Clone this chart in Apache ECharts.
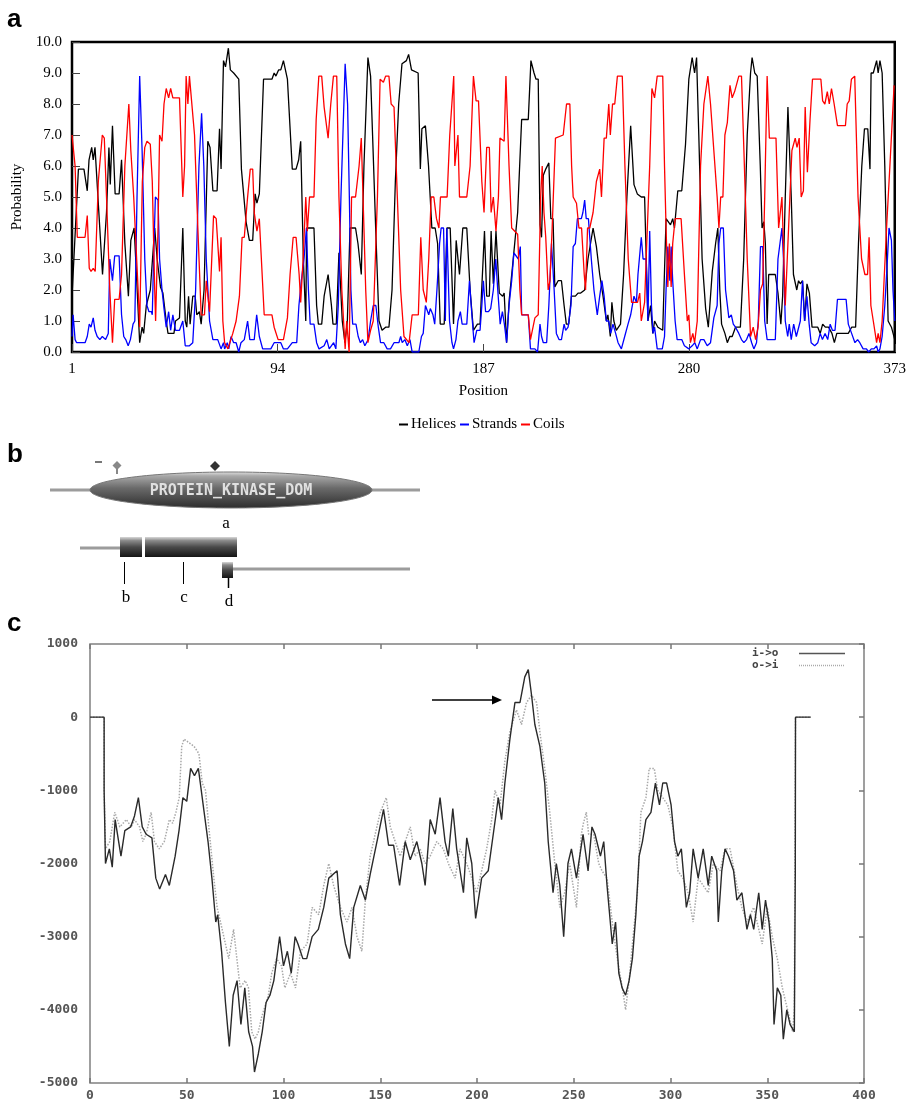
<!DOCTYPE html>
<html><head><meta charset="utf-8">
<script src="https://cdn.jsdelivr.net/npm/echarts@6/dist/echarts.min.js"></script>
<style>html,body{margin:0;padding:0;background:#fff}#c{width:909px;height:1102px}</style>
</head><body><div id="c"></div>
<script>
// ---------- Panel a: secondary structure probabilities ([position, value]) ----------
const seriesNames = ['Helices', 'Strands', 'Coils'];
const positionTicks = [1, 94, 187, 280, 373];
const helices = [[1,1.8],[3.9,5.9],[6.4,5.9],[7.9,5.2],[8.7,6.2],[9.9,6.6],[10.6,6.2],[11.4,6.6],[14.8,2.5],[15.6,2.5],[16.6,4.5],[17.7,6.6],[18.3,5.4],[19.3,7.3],[20.5,5.1],[22.3,5.1],[23.4,6.2],[24.9,3.5],[26.5,1.8],[27.6,3.6],[29.1,4.0],[29.8,3.0],[31.6,0.3],[32.7,0.8],[33.4,0.6],[34.6,1.5],[36.4,2.0],[38.4,4.0],[39.5,3.0],[41,2.1],[42.1,1.9],[43.6,1.0],[44.4,0.6],[47.1,0.6],[47.8,1.0],[49.6,1.1],[51.1,4.0],[52.2,1.0],[52.9,0.8],[53.7,1.8],[54.4,0.9],[55.6,1.8],[56.7,1.8],[57.4,1.2],[58.6,1.3],[59.4,0.9],[60.7,2.0],[62.4,6.8],[63.4,6.6],[64.7,5.2],[66.6,5.2],[67.7,7.2],[68.4,5.9],[69.5,9.4],[70.4,9.2],[71.7,9.8],[72.6,9.1],[74.1,9.0],[76.4,8.8],[77.6,5.9],[78.5,5.9],[79.7,4.2],[81.2,3.6],[82.7,3.6],[83.8,5.1],[84.6,4.8],[85.7,5.1],[87.6,8.8],[91.4,8.8],[92.4,9.0],[93.2,8.9],[94.4,9.1],[95.4,9.1],[96.6,9.4],[98.4,8.8],[100.6,5.9],[102.3,5.9],[103.5,6.2],[104.4,6.8],[105.6,3.0],[106.7,1.0],[107.1,4.0],[110.4,4.0],[111.6,1.5],[112.4,0.9],[113.9,0.9],[115,1.8],[116.8,2.5],[118.3,1.5],[119,0.9],[120.5,0.9],[121.7,3.2],[123.2,1.0],[124.4,0.3],[125.5,1.0],[126.7,4.0],[129.2,4.0],[130.3,3.5],[131.8,2.5],[133,6.0],[134.8,9.5],[136,8.9],[136.9,7.0],[138.3,4.0],[139.8,1.0],[141.2,0.7],[142.8,0.8],[144.3,0.8],[145.7,2.0],[147.2,5.5],[148.7,8.0],[150.2,9.3],[152.2,9.4],[153.2,9.6],[154.5,9.1],[157.5,9.0],[158.5,5.9],[159.2,7.2],[160.8,7.3],[162.2,6.0],[163.7,4.0],[165.2,4.0],[166.3,3.5],[167.5,0.9],[169.3,0.9],[170.5,4.0],[172,4.0],[173.5,0.9],[174.7,3.6],[176.2,2.5],[177.7,4.0],[179.5,4.0],[181,2.0],[182.5,0.7],[184.3,0.9],[185.5,0.9],[187.5,3.9],[188.5,1.8],[189.7,1.8],[190.5,3.9],[191.5,2.2],[192.7,3.9],[194.2,1.9],[195.7,1.8],[196.4,1.9],[197.5,0.3],[198.7,1.7],[200.5,3.0],[202.5,4.5],[204.3,7.5],[207.3,7.5],[208.5,9.4],[209.9,9.0],[210.8,8.8],[211.8,8.8],[212.6,4.1],[213.3,3.7],[214.1,5.7],[215.2,5.9],[216.6,6.1],[217.5,4.3],[218.5,4.3],[219.3,2.1],[220.8,2.3],[222.3,2.3],[223.5,1.5],[224.5,0.9],[225.6,0.9],[226.8,1.8],[228.6,1.8],[229.8,1.9],[231,1.9],[232.8,2.0],[234.3,3.0],[236.6,4.0],[238.1,3.4],[239.6,2.5],[241.1,1.8],[242.6,1.0],[243.3,1.2],[244.4,0.5],[245.1,1.6],[246,1.0],[247.1,0.7],[249,0.9],[250.4,2.5],[251.9,5.0],[253.6,7.3],[255.1,5.4],[256.6,5.1],[258.4,5.0],[259.9,5.0],[261.4,1.0],[262.6,1.5],[263.6,0.6],[264.4,1.0],[265.9,0.8],[268.1,0.7],[269.6,4.3],[270.4,4.3],[271.6,4.1],[272.6,4.3],[273.4,4.0],[274.9,5.2],[276.7,5.2],[278.4,6.7],[279.9,8.8],[281.4,9.5],[282.5,9.0],[283.4,9.5],[284.4,7.0],[285.9,3.0],[287.5,1.4],[288.7,0.8],[290.5,2.6],[292,3.5],[293,4.0],[293.9,2.0],[294.7,0.9],[296.2,0.6],[297.3,0.3],[298.4,0.5],[299.5,0.5],[301,0.8],[303.2,0.8],[304.7,3.0],[306.3,7.0],[307.8,9.0],[308.5,9.5],[309.7,9.0],[310.8,8.9],[312.2,6.0],[313,4.0],[313.8,4.2],[314.5,3.5],[315.3,0.9],[316,2.5],[319,2.5],[320.2,1.9],[321.5,0.9],[322.3,1.8],[323.5,5.0],[324.7,7.9],[326.2,5.0],[327.2,2.5],[328.7,2.0],[329.5,2.3],[330.3,2.2],[331.3,2.3],[332.3,1.0],[333.3,2.2],[334.4,1.9],[335.6,0.8],[338.2,0.8],[339.3,0.6],[340.4,0.9],[341.6,0.8],[343.1,0.8],[344.6,0.6],[345.7,0.3],[346.8,0.6],[352,0.6],[353.5,0.8],[355.3,0.8],[356.6,3.5],[358.1,6.0],[359.3,7.2],[360.8,7.2],[361.8,5.9],[362.3,9.0],[363.3,9.0],[364.8,9.4],[365.5,9.0],[366.3,9.4],[367.3,9.0],[368.5,6.0],[370,1.0],[371.5,0.8],[373,0.4]];
const strands = [[1,0.5],[1.5,1.2],[2.4,0.4],[3.1,0.3],[6.9,0.3],[7.9,0.5],[8.8,0.9],[9.6,0.8],[10.6,1.1],[11.4,0.7],[12.4,0.5],[13.6,0.4],[14.7,0.5],[16.2,0.4],[17.4,0.6],[18.1,3.0],[19.3,2.3],[20.3,3.1],[22.3,3.1],[23.4,1.2],[24.4,0.5],[25.3,0.4],[26.4,0.2],[27.4,0.4],[28.6,0.9],[29.4,1.0],[30.4,5.0],[31.6,8.9],[32.7,6.5],[33.9,3.0],[34.9,1.5],[35.8,1.3],[36.9,1.3],[37.3,1.2],[37.9,3.0],[38.7,5.0],[39.9,4.9],[40.6,3.0],[41.7,2.0],[42.6,1.4],[43.6,0.8],[44.7,1.3],[45.6,0.7],[46.6,1.2],[47.8,0.7],[49.6,0.7],[51.1,1.0],[52.2,0.2],[54.1,0.2],[55.6,0.3],[56.9,2.0],[58.4,6.0],[59.6,7.7],[60.6,6.0],[61.7,3.0],[63.2,1.0],[64.7,0.4],[66.9,0.4],[68.4,0.1],[69.5,0.3],[70,0.1],[71.2,0.3],[71.9,0.1],[72.9,0.5],[74.1,0.3],[75.2,0.3],[76.4,0.0],[77.4,0.3],[78.9,0.4],[80.4,1.0],[81.4,0.4],[83.4,0.4],[84.5,1.2],[85.7,0.5],[87.2,0.1],[90.9,0.1],[92.4,0.3],[95.4,0.3],[96.6,0.1],[98.4,0.1],[100.6,0.3],[102.6,0.3],[103.6,1.5],[104.7,2.3],[105.9,3.0],[107,4.0],[107.9,2.0],[108.7,0.9],[110.4,0.9],[111.6,0.3],[112.7,0.1],[115,0.2],[116.2,0.4],[117.3,0.1],[119.3,0.3],[120.3,0.1],[121.4,1.5],[122.6,5.0],[124.5,9.3],[125.6,8.0],[126.4,5.0],[127.1,2.0],[127.9,0.9],[129.4,0.9],[130.4,0.5],[131.4,0.3],[132.4,0.4],[133.4,0.2],[134.9,0.4],[136,1.0],[137.2,1.5],[138.4,1.5],[139.5,0.8],[140.5,0.3],[142,0.3],[143.5,0.1],[145,0.1],[146.6,0.3],[148.8,0.3],[149.6,0.5],[150.3,0.3],[151.5,0.4],[152.6,0.2],[153.8,0.4],[154.8,0.0],[157.8,0.0],[159,0.5],[159.8,0.6],[160.8,1.5],[161.6,1.5],[162.3,1.2],[163,1.4],[164.2,1.2],[165,0.9],[166,2.0],[167.2,3.5],[167.9,4.0],[169,4.0],[169.8,1.0],[170.5,4.0],[171.7,1.0],[172.8,0.3],[173.5,0.1],[174.6,0.4],[175.5,1.0],[176.6,1.3],[177.4,0.9],[179.5,0.9],[180.7,2.3],[181.8,1.2],[182.8,0.3],[184,0.7],[185.5,0.7],[186.3,1.5],[187,2.3],[188,1.3],[189.3,1.3],[190.3,1.4],[191.5,2.0],[192.6,3.0],[193.5,2.0],[194.6,0.9],[195.6,1.3],[196.5,0.9],[197.5,0.3],[198.6,1.5],[199.8,2.3],[200.8,3.2],[202.8,3.0],[203.7,3.4],[204.3,1.2],[207.3,1.2],[208.3,0.1],[210.3,0.1],[211.5,0.0],[212.6,0.9],[213.3,0.5],[214.1,0.3],[215.6,0.3],[216.6,1.5],[217.8,3.5],[219,2.0],[220,0.6],[221.2,0.4],[222.3,0.4],[223.5,0.9],[224.2,0.7],[225.3,0.8],[226.6,1.5],[227.6,3.4],[228.6,3.5],[229.5,4.3],[231.3,4.3],[232,4.5],[232.8,4.9],[233.5,4.3],[234.5,4.3],[235.8,3.0],[237,2.0],[238.5,1.2],[239.6,1.8],[240.6,2.3],[241.6,1.8],[242.6,1.0],[243.7,1.0],[244.6,0.6],[245.6,0.9],[246.8,0.6],[247.9,0.3],[249.4,0.1],[250.9,0.5],[252.4,0.9],[253.6,1.2],[255.1,1.8],[256.2,1.6],[256.9,2.5],[258.4,3.7],[259.2,3.0],[260.6,3.0],[261.4,1.0],[262.2,3.9],[263,1.5],[263.7,0.6],[264.4,0.8],[265.6,0.1],[267.9,0.1],[268.9,0.5],[269.6,2.0],[270.4,3.4],[271.3,2.3],[271.9,3.4],[272.6,2.3],[273.7,1.0],[274.6,0.4],[276.7,0.4],[277.9,0.2],[279.9,0.1],[281.4,0.2],[282.6,0.3],[283.7,0.1],[285.2,0.4],[286.7,0.4],[288.2,0.2],[289.7,0.3],[291.2,1.1],[292.7,1.5],[293.5,3.5],[294.3,4.0],[295.5,4.0],[296.5,2.0],[298,1.1],[299.1,1.2],[300,0.9],[301,0.8],[302.5,0.6],[303.7,0.4],[304.8,0.3],[306,0.4],[307.1,0.6],[308.3,0.3],[309.3,0.1],[310.5,0.3],[311.3,1.0],[312.3,3.4],[313.3,3.4],[314.2,1.0],[315.3,0.4],[319,0.4],[320.2,3.0],[322,4.0],[322.7,3.0],[323.5,1.0],[324.6,0.5],[325.3,0.9],[326.2,0.4],[327.3,0.9],[328.5,0.5],[330.3,1.0],[331.3,2.3],[332.2,1.0],[333.3,1.8],[334.3,0.9],[335.2,0.3],[336.8,0.2],[338.2,0.3],[339.3,0.6],[340.3,0.4],[341.5,0.6],[342.7,0.4],[343.8,0.9],[344.8,0.7],[346,0.7],[347.1,1.7],[351,1.7],[352,0.9],[353.5,0.6],[355,0.3],[356.2,0.4],[357.2,0.3],[358.7,0.1],[360.2,0.1],[361.2,0.0],[362.4,0.1],[363.6,0.1],[364.8,0.2],[365.5,0.0],[366.3,0.1],[367.3,0.5],[368.5,1.5],[369.7,3.0],[370.4,4.0],[371.5,3.6],[372.2,2.0],[373,1.0]];
const coils = [[1,7.0],[2.4,6.0],[3.4,3.7],[6.9,3.7],[7.9,4.4],[8.8,2.7],[9.6,2.6],[10.6,2.7],[11.5,2.6],[12.9,5.5],[14.7,7.0],[15.6,6.9],[16.6,5.0],[18.1,2.0],[19.3,0.3],[20.3,1.7],[22.3,1.7],[23.4,2.5],[24.9,6.0],[26.7,8.0],[27.6,6.5],[28.9,5.0],[29.7,5.0],[30.9,2.0],[31.6,0.8],[32.8,5.5],[33.9,6.6],[34.9,6.8],[36.4,6.7],[37.3,5.5],[38.4,2.0],[38.8,1.0],[39.9,4.0],[40.6,7.0],[41.7,6.8],[42.6,8.0],[43.6,8.5],[44.7,8.2],[45.6,8.5],[46.6,8.2],[49.6,8.2],[51.1,5.0],[51.9,6.0],[52.6,8.9],[53.4,8.0],[54.1,8.9],[56.4,7.0],[57.9,4.0],[59.4,1.2],[60.9,1.2],[61.7,2.3],[63.2,1.3],[65,4.4],[66.2,4.3],[67.7,2.6],[68.4,3.7],[69.2,1.0],[70,0.3],[71.5,0.1],[73.7,0.6],[75.2,1.0],[76.7,1.8],[77.9,3.7],[78.9,3.7],[80.4,5.0],[81.6,5.9],[82.7,5.9],[83.4,4.5],[84.6,3.9],[85.7,4.3],[87.9,1.2],[91.4,1.2],[92.4,0.8],[94.2,0.4],[96.6,0.4],[98.4,1.1],[99.6,2.5],[101,3.7],[102.3,3.7],[103.7,2.5],[104.4,1.6],[105.5,3.0],[106.7,5.0],[107.4,3.9],[108.4,5.0],[110.4,5.0],[111.4,7.5],[112.6,8.9],[113.9,8.9],[115,7.9],[115.7,7.9],[116.8,6.9],[118,8.0],[119.2,8.9],[120.7,8.9],[121.7,5.0],[123,2.0],[124.5,0.1],[125.2,1.0],[126.3,0.0],[127.4,5.0],[129.2,5.0],[130.8,6.0],[131.8,6.9],[133,4.0],[133.8,2.0],[134.8,0.3],[136,0.7],[137.2,1.0],[139.1,5.0],[140.3,8.8],[141.8,8.7],[142.8,8.9],[144.3,8.9],[145.3,8.0],[146.6,7.9],[148.1,5.0],[149.6,2.0],[151.1,0.5],[153.4,0.3],[154.8,1.2],[157.6,1.2],[158.7,3.7],[159.8,2.0],[161.2,1.6],[162.3,3.0],[163.4,5.0],[164.6,5.0],[165.8,4.3],[166.9,4.0],[167.6,5.0],[170.6,5.0],[171.8,7.0],[173.6,8.9],[174.1,6.0],[174.9,6.0],[175.5,7.0],[176.2,5.0],[179.5,5.0],[181,6.0],[182.5,8.9],[183.7,8.1],[184.8,8.1],[186.3,5.5],[187.3,4.5],[188.5,6.6],[189.7,6.6],[190.5,4.5],[191.5,5.0],[192.7,3.9],[193.8,5.0],[194.5,6.9],[196.4,6.8],[197.2,8.9],[198.6,6.0],[199.8,4.0],[202.5,3.8],[203.5,2.0],[204.3,1.2],[207.3,1.2],[208.3,0.4],[210.3,1.1],[211.8,1.2],[212.9,5.0],[213.6,6.0],[214.4,4.5],[215.2,3.7],[216.3,2.0],[217.1,2.3],[218.1,4.0],[219.6,6.9],[223.1,7.0],[224.6,8.0],[226.1,8.0],[226.9,6.0],[227.6,5.0],[229.1,4.8],[230.2,4.0],[231.4,4.0],[232.6,2.5],[233.2,2.0],[234.1,4.0],[235.1,4.0],[236.6,4.5],[238.1,5.5],[239.6,5.9],[240.4,5.0],[241.6,6.9],[242.6,6.9],[243.7,8.0],[244.4,7.0],[245.4,8.0],[246.4,8.0],[247.6,8.9],[249.8,8.9],[251,6.0],[252.5,3.0],[254,1.6],[256.7,1.6],[257.7,1.9],[258.4,1.0],[259.9,1.6],[260.6,3.0],[262.2,6.0],[263.2,8.5],[264.4,8.2],[265.6,8.9],[268.1,8.9],[268.9,6.0],[269.6,4.0],[270.4,2.1],[271.1,3.5],[271.9,2.1],[272.6,3.5],[273.7,4.3],[276.4,4.3],[277.9,2.5],[279.2,1.0],[279.9,1.2],[280.6,0.3],[281.7,0.6],[282.5,0.3],[283.7,1.0],[285.2,6.0],[286.7,8.0],[288.5,8.9],[289.7,8.0],[291.2,6.5],[292.7,5.0],[293.5,4.0],[294.3,5.0],[295.3,5.0],[296.2,7.0],[297.3,7.4],[298.5,8.6],[299.5,8.2],[300.6,8.4],[301.5,8.4],[302.5,8.9],[303.7,8.9],[304.8,6.5],[306.3,3.0],[307.8,0.5],[309,0.8],[310.1,0.4],[311.2,0.8],[312.3,2.0],[313.3,2.2],[314.2,5.0],[315.3,8.9],[316.3,6.9],[319.3,6.9],[320.5,4.0],[322,5.0],[323.5,1.5],[325,4.0],[326.5,6.5],[328,6.9],[328.8,6.6],[329.8,6.9],[330.7,5.0],[331.7,5.2],[332.5,7.9],[333.5,5.8],[334.7,7.5],[335.8,8.8],[339.6,8.8],[340.4,8.1],[341.4,8.0],[342.5,8.4],[343.4,8.0],[344.4,8.5],[345.6,8.0],[347.1,7.3],[350.7,7.3],[351.5,8.0],[352.4,8.1],[353.4,8.8],[354.9,8.9],[356.4,5.0],[358,3.0],[359.5,2.5],[360.7,2.5],[361.4,3.7],[362.2,1.5],[363.3,1.0],[364.8,0.3],[365.5,0.6],[366.3,0.3],[367.3,1.0],[369.3,4.0],[370.8,6.0],[372.7,8.6]];

// ---------- Panel c: TMpred profiles ([residue, score]) ----------
const tmNames = ['i->o', 'o->i'];
const inToOut = [[0,0],[7.3,0],[7.3,-1000],[8,-2000],[10,-1800],[11.5,-2050],[13,-1400],[16,-1900],[18,-1550],[21,-1500],[23,-1350],[25,-1100],[27,-1500],[29,-1600],[32,-1650],[34,-2200],[36,-2350],[39,-2150],[41,-2300],[44,-1900],[46,-1550],[48,-1100],[50,-1150],[52,-700],[54,-800],[56,-700],[57,-900],[59,-1300],[61,-1700],[63,-2200],[65,-2800],[66,-2700],[68,-3200],[70,-3900],[72,-4500],[74,-3800],[76,-3600],[78,-4200],[80,-3700],[82,-4300],[84,-4500],[85,-4850],[87,-4600],[89,-4300],[91,-3900],[93,-3800],[95,-3600],[98,-3000],[100,-3400],[102,-3200],[104,-3500],[106,-3000],[107.5,-3100],[110,-3300],[112,-3300],[114.8,-3000],[118,-2900],[120.8,-2600],[123.4,-2200],[127.7,-2100],[129.4,-2700],[132,-3100],[134.2,-3300],[136.3,-2600],[139.7,-2300],[142.3,-2500],[144.8,-2150],[148.3,-1700],[151.7,-1260],[154.3,-1750],[156.9,-1750],[160,-2300],[162.9,-1700],[165.5,-1950],[168.9,-1700],[171.5,-2000],[173.2,-2300],[175.8,-1400],[178.4,-1600],[180.9,-1100],[183.5,-1700],[185.2,-1900],[187.5,-1250],[189.5,-1800],[193,-2400],[194.7,-1650],[197.3,-2000],[199.3,-2750],[202.4,-2200],[205.8,-2100],[208.4,-1600],[211,-1100],[212.7,-1400],[214.4,-900],[217,-300],[219.6,200],[222.2,200],[224.7,550],[226.5,650],[228.2,300],[229.9,-100],[232.5,-400],[235,-900],[236.8,-1700],[239.3,-2400],[241,-2000],[242.8,-2300],[244.8,-3000],[247,-2000],[248.8,-1800],[251.4,-2200],[254.8,-1600],[257.4,-2100],[259.4,-1500],[261,-1600],[263.8,-1900],[265.5,-1700],[267.2,-2300],[269.9,-3100],[271.6,-2800],[273.3,-3500],[275,-3700],[276.8,-3800],[278.6,-3600],[280.3,-3300],[282.1,-2700],[283.8,-1900],[285.5,-1700],[287.3,-1400],[289.9,-1300],[292.2,-900],[294.3,-1200],[296,-900],[298,-900],[300.3,-1200],[302.1,-1700],[303.8,-1900],[305.6,-1800],[308.2,-2600],[309.9,-2400],[311.7,-1800],[314.3,-2200],[316.9,-1800],[319.5,-2300],[321.3,-1900],[323.9,-2100],[324.7,-2800],[326.5,-2100],[328.2,-1800],[330,-1900],[332.6,-2100],[334.3,-2500],[336.9,-2400],[339.5,-2900],[341.3,-2700],[343,-2900],[345.6,-2400],[347.4,-2900],[349.1,-2500],[350.9,-2800],[352.6,-3300],[353.5,-4200],[355.2,-3700],[357,-3800],[358.3,-4400],[360.1,-4000],[361.8,-4200],[364,-4300],[364.5,-2100],[364.6,0],[372.5,0]];
const outToIn = [[0,0],[7.3,0],[7.3,-1000],[8,-1800],[10.2,-1700],[12.8,-1300],[15.4,-1500],[18.8,-1400],[21.3,-1500],[23,-1400],[25.6,-1500],[27.3,-1700],[29,-1600],[31.6,-1300],[33.3,-1700],[35.8,-1800],[38.4,-1700],[41,-1400],[42.7,-1450],[44.4,-1300],[46.1,-1100],[47.4,-400],[48.6,-300],[51.2,-350],[53.8,-400],[56.3,-500],[58,-900],[59.7,-1000],[61.4,-1500],[64,-2200],[65.7,-2600],[68.3,-2900],[71.7,-3300],[74.2,-2900],[75.9,-3300],[77.6,-3700],[80.2,-3600],[81.9,-3700],[83.6,-4300],[85.3,-4400],[87,-4300],[88.7,-4100],[92.2,-3800],[93.9,-3500],[96.4,-3300],[99,-3400],[100.7,-3700],[103.6,-3500],[106.2,-3700],[108.8,-3200],[112.2,-3100],[114.8,-2600],[118.2,-2700],[120.8,-2300],[123.4,-2000],[125.9,-2300],[129.4,-2600],[132.8,-2800],[135.4,-2600],[138,-3000],[140.5,-3200],[142.3,-2500],[144.8,-1900],[147.4,-1600],[150,-1300],[153.1,-1100],[155.2,-1500],[157.7,-1700],[160.3,-1900],[162.9,-1700],[165.5,-1500],[168,-1900],[170.6,-1800],[173.2,-2000],[175.8,-1900],[179.2,-1700],[182.6,-1800],[185.2,-2000],[188.7,-2200],[191.2,-1800],[194.7,-2000],[197.3,-2200],[199.8,-2400],[202.4,-2100],[205,-1800],[207.6,-1400],[209.3,-1000],[211.9,-1200],[214.4,-600],[217,-200],[220.4,100],[223,-100],[225.6,200],[228.2,300],[230.8,200],[232.5,-200],[235,-700],[237.6,-1300],[240.2,-2000],[242.8,-2600],[245.3,-2400],[247.9,-2000],[251.4,-2600],[253.9,-1600],[255,-1450],[256.5,-1300],[257.7,-1600],[260.3,-1600],[262.9,-2000],[264.6,-2100],[267.2,-2200],[269.9,-2800],[272.5,-3300],[275.1,-3700],[276.8,-4000],[278.6,-3600],[280.3,-3100],[282.9,-2400],[284.7,-1300],[287.3,-1100],[289,-700],[291.6,-700],[293.4,-1000],[296,-1100],[298.6,-1200],[301.2,-1500],[303.8,-2100],[306.4,-2200],[309.1,-2400],[311.7,-2800],[314.3,-2200],[316.9,-2300],[319.5,-2400],[322.1,-2000],[325.6,-2100],[328.2,-1800],[330.8,-1800],[334.3,-2300],[336.9,-2600],[339.5,-2800],[343,-2600],[347.4,-3100],[350,-2600],[352.6,-3000],[355.2,-3300],[357.8,-3700],[360.5,-4000],[363.1,-4300],[364,-4000],[364.5,-4000],[364.6,0],[372.5,0]];

// ---------- Panel b labels ----------
const domainName = 'PROTEIN_KINASE_DOM';
const partLabels = ['a', 'b', 'c', 'd'];

const SERIF = '"Liberation Serif","Times New Roman",serif';
const MONO = '"DejaVu Sans Mono","Liberation Mono",monospace';
const SANS = '"Liberation Sans",Arial,sans-serif';

const shift = arr => arr.map(d => [d[0] - positionTicks[0], d[1]]);
const colors = ['#000000', '#0000ff', '#ff0000'];

const chart = echarts.init(document.getElementById('c'), null, {renderer: 'canvas'});

function txt(x, y, text, font, fill, align, valign) {
  return {type: 'text', x: x, y: y, silent: true,
    style: {text: text, font: font, fill: fill, align: align || 'left', verticalAlign: valign || 'top',
            textAlign: align || 'left', textVerticalAlign: valign || 'top'}};
}
function grad(stops) {
  return {type: 'linear', x: 0, y: 0, x2: 0, y2: 1, colorStops: stops.map(s => ({offset: s[0], color: s[1]}))};
}
const boxGrad = grad([[0, '#d8d8d8'], [0.18, '#8a8a8a'], [0.5, '#4a4a4a'], [1, '#151515']]);
const GREY = '#9c9c9c';

const graphics = [
  txt(7, 7, 'a', 'bold 26px ' + SANS, '#000'),
  txt(7, 442, 'b', 'bold 26px ' + SANS, '#000'),
  txt(7, 611, 'c', 'bold 26px ' + SANS, '#000'),
  // panel b, row 1
  {type: 'line', shape: {x1: 50, y1: 490, x2: 420, y2: 490}, style: {stroke: GREY, lineWidth: 3}},
  {type: 'ellipse', shape: {cx: 231, cy: 490, rx: 141, ry: 18},
   style: {fill: grad([[0, '#e4e4e4'], [0.12, '#a8a8a8'], [0.45, '#6a6a6a'], [1, '#2c2c2c']]), stroke: '#777', lineWidth: 1}},
  txt(231, 491, domainName, 'bold 15px ' + MONO, '#e0e0e0', 'center', 'middle'),
  {type: 'line', shape: {x1: 117, y1: 466, x2: 117, y2: 474}, style: {stroke: '#888', lineWidth: 2}},
  {type: 'polygon', shape: {points: [[117, 461], [121.5, 465.5], [117, 470], [112.5, 465.5]]}, style: {fill: '#888'}},
  {type: 'line', shape: {x1: 95, y1: 462, x2: 102, y2: 462}, style: {stroke: '#777', lineWidth: 2}},
  {type: 'polygon', shape: {points: [[215, 461], [220, 466], [215, 471], [210, 466]]}, style: {fill: '#333'}},
  txt(226, 515, partLabels[0], '17px ' + SERIF, '#000', 'center', 'top'),
  // panel b, row 2
  {type: 'line', shape: {x1: 80, y1: 548, x2: 120, y2: 548}, style: {stroke: GREY, lineWidth: 3}},
  {type: 'rect', shape: {x: 120, y: 537, width: 22, height: 20}, style: {fill: boxGrad}},
  {type: 'rect', shape: {x: 145, y: 537, width: 92, height: 20}, style: {fill: boxGrad}},
  {type: 'line', shape: {x1: 233, y1: 569, x2: 410, y2: 569}, style: {stroke: GREY, lineWidth: 3}},
  {type: 'rect', shape: {x: 222, y: 562, width: 11, height: 16}, style: {fill: boxGrad}},
  {type: 'line', shape: {x1: 124.5, y1: 562, x2: 124.5, y2: 584}, style: {stroke: '#000', lineWidth: 1}},
  {type: 'line', shape: {x1: 183.5, y1: 562, x2: 183.5, y2: 584}, style: {stroke: '#000', lineWidth: 1}},
  {type: 'line', shape: {x1: 228.5, y1: 578, x2: 228.5, y2: 588}, style: {stroke: '#000', lineWidth: 1.5}},
  txt(126, 589, partLabels[1], '17px ' + SERIF, '#000', 'center', 'top'),
  txt(184, 589, partLabels[2], '17px ' + SERIF, '#000', 'center', 'top'),
  txt(229, 593, partLabels[3], '17px ' + SERIF, '#000', 'center', 'top'),
  // panel c arrow
  {type: 'line', shape: {x1: 432, y1: 700, x2: 494, y2: 700}, style: {stroke: '#000', lineWidth: 1.5}},
  {type: 'polygon', shape: {points: [[492, 695.5], [502, 700], [492, 704.5]]}, style: {fill: '#000'}},
  // panel c legend
  txt(752, 653.5, tmNames[0], 'bold 11px ' + MONO, '#444', 'left', 'middle'),
  txt(752, 665, tmNames[1], 'bold 11px ' + MONO, '#444', 'left', 'middle'),
  {type: 'line', shape: {x1: 799, y1: 653.5, x2: 845, y2: 653.5}, style: {stroke: '#555', lineWidth: 1.5}},
  {type: 'line', shape: {x1: 799, y1: 665.5, x2: 845, y2: 665.5}, style: {stroke: '#aaa', lineWidth: 1.5, lineDash: [1, 1]}}
];

const tickC = {show: true, inside: true, length: 5, lineStyle: {color: '#777', width: 1.5}};
const noLine = {show: false, onZero: false};

const option = {
  animation: false,
  backgroundColor: '#fff',
  grid: [
    {left: 72, top: 42, width: 826, height: 310, show: true, borderColor: '#000', borderWidth: 2.5, backgroundColor: 'transparent'},
    {left: 90, top: 644, width: 774, height: 443, show: true, borderColor: '#808080', borderWidth: 1.5, backgroundColor: 'transparent'}
  ],
  legend: {
    data: seriesNames, left: 394, top: 412, icon: 'rect', itemWidth: 9, itemHeight: 2, itemGap: 4,
    textStyle: {fontFamily: SERIF, fontSize: 15, color: '#000', padding: [0, 0, 0, -2]}
  },
  xAxis: [
    {type: 'value', gridIndex: 0, min: 0, max: positionTicks[4] - positionTicks[0], interval: positionTicks[1] - positionTicks[0],
     name: 'Position', nameLocation: 'middle', nameGap: 32,
     nameTextStyle: {fontFamily: SERIF, fontSize: 15, color: '#000'},
     axisLine: noLine, splitLine: {show: false},
     axisTick: {show: true, inside: true, length: 8, lineStyle: {color: '#444', width: 1}},
     axisLabel: {fontFamily: SERIF, fontSize: 15, color: '#000', margin: 10, formatter: v => String(v + positionTicks[0])}},
    {type: 'value', gridIndex: 1, min: 0, max: 400, interval: 50,
     axisLine: noLine, splitLine: {show: false}, axisTick: tickC,
     axisLabel: {fontFamily: MONO, fontSize: 13, fontWeight: 'bold', color: '#555', margin: 6, formatter: v => String(v)}},
    {type: 'value', gridIndex: 1, position: 'top', min: 0, max: 400, interval: 50,
     axisLine: noLine, splitLine: {show: false}, axisTick: tickC, axisLabel: {show: false}}
  ],
  yAxis: [
    {type: 'value', gridIndex: 0, min: 0, max: 10, interval: 1,
     name: 'Probability', nameLocation: 'middle', nameGap: 47,
     nameTextStyle: {fontFamily: SERIF, fontSize: 15, color: '#000'},
     axisLine: noLine, splitLine: {show: false},
     axisTick: {show: true, inside: true, length: 8, lineStyle: {color: '#444', width: 1}},
     axisLabel: {fontFamily: SERIF, fontSize: 15, color: '#000', margin: 10, formatter: v => v.toFixed(1)}},
    {type: 'value', gridIndex: 1, min: -5000, max: 1000, interval: 1000,
     axisLine: noLine, splitLine: {show: false}, axisTick: {show: false},
     axisLabel: {fontFamily: MONO, fontSize: 13, fontWeight: 'bold', color: '#555', margin: 12, formatter: v => String(v)}},
    {type: 'value', gridIndex: 1, position: 'right', min: -5000, max: 1000, interval: 1000,
     axisLine: noLine, splitLine: {show: false}, axisTick: tickC, axisLabel: {show: false}}
  ],
  series: [
    {name: seriesNames[0], type: 'line', xAxisIndex: 0, yAxisIndex: 0, data: shift(helices), showSymbol: false,
     lineStyle: {color: colors[0], width: 1.3}, itemStyle: {color: colors[0]}},
    {name: seriesNames[1], type: 'line', xAxisIndex: 0, yAxisIndex: 0, data: shift(strands), showSymbol: false,
     lineStyle: {color: colors[1], width: 1.3}, itemStyle: {color: colors[1]}},
    {name: seriesNames[2], type: 'line', xAxisIndex: 0, yAxisIndex: 0, data: shift(coils), showSymbol: false,
     lineStyle: {color: colors[2], width: 1.3}, itemStyle: {color: colors[2]}},
    {name: tmNames[1], type: 'line', xAxisIndex: 1, yAxisIndex: 1, data: outToIn, showSymbol: false,
     lineStyle: {color: '#a8a8a8', width: 1.5, type: 'dotted'}},
    {name: tmNames[0], type: 'line', xAxisIndex: 1, yAxisIndex: 1, data: inToOut, showSymbol: false,
     lineStyle: {color: '#2a2a2a', width: 1.4}}
  ],
  graphic: {elements: graphics}
};
chart.setOption(option);
</script>
</body></html>
